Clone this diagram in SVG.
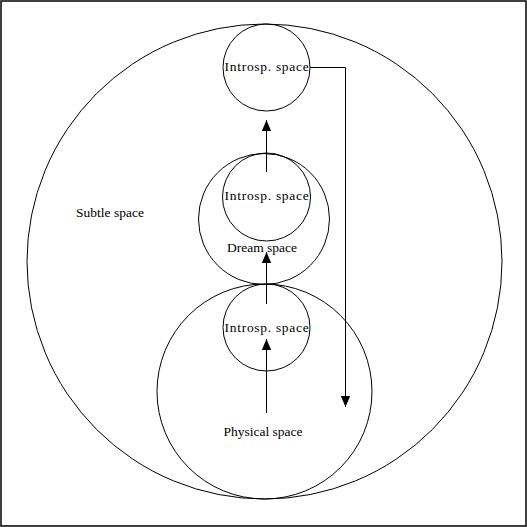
<svg xmlns="http://www.w3.org/2000/svg" width="527" height="527" viewBox="0 0 527 527">
<style>
.c{fill:none;stroke:#000;stroke-width:1}
.l{fill:none;stroke:#000;stroke-width:1}
text{font-family:"Liberation Serif","Times New Roman",serif;font-size:13.5px;fill:#000;text-anchor:middle}
.i{letter-spacing:0.7px}
</style>
<defs>
<marker id="ah" markerWidth="11" markerHeight="14" refX="13" refY="5.5" viewBox="0 0 13 11" markerUnits="userSpaceOnUse" orient="auto">
<path d="M0,0 L13,5.5 L0,11 Z" fill="#000"/>
</marker>
</defs>
<rect x="1" y="1" width="525" height="525" fill="#fff" stroke="#000" stroke-width="1.5"/>
<g id="subtle"><circle class="c" cx="264.5" cy="261.5" r="237.5"/><text x="110" y="217">Subtle space</text></g>
<g id="physical"><circle class="c" cx="264.5" cy="391.5" r="107.5"/><text x="263" y="436">Physical space</text></g>
<g id="dream"><circle class="c" cx="264" cy="219" r="65.5"/><text x="262" y="252">Dream space</text></g>
<g id="introsp-top"><circle class="c" cx="266.5" cy="67.5" r="43.5"/><text class="i" x="267" y="71">Introsp. space</text></g>
<g id="introsp-mid"><circle class="c" cx="266.5" cy="197" r="44"/><text class="i" x="267" y="200">Introsp. space</text></g>
<g id="introsp-low"><circle class="c" cx="266.5" cy="327.5" r="43.5"/><text class="i" x="267" y="332">Introsp. space</text></g>
<g id="connectors">
<line class="l" x1="266.5" y1="172" x2="266.5" y2="120" marker-end="url(#ah)"/>
<line class="l" x1="266.5" y1="304" x2="266.5" y2="252" marker-end="url(#ah)"/>
<line class="l" x1="266.5" y1="413" x2="266.5" y2="339" marker-end="url(#ah)"/>
<polyline class="l" points="310,67.5 345.5,67.5 345.5,407" marker-end="url(#ah)"/>
</g>
</svg>
